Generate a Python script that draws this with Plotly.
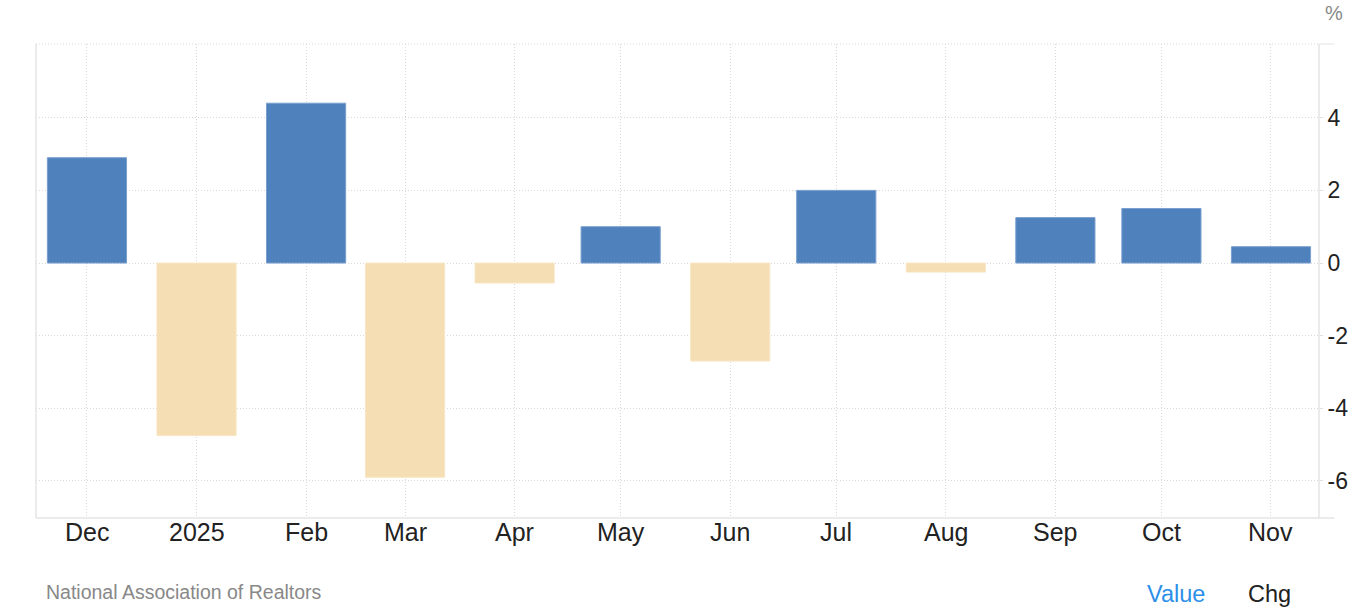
import plotly.graph_objects as go

categories = ["Dec", "2025", "Feb", "Mar", "Apr", "May", "Jun", "Jul", "Aug", "Sep", "Oct", "Nov"]
dates = ["2024-12-01", "2025-01-01", "2025-02-01", "2025-03-01", "2025-04-01", "2025-05-01",
         "2025-06-01", "2025-07-01", "2025-08-01", "2025-09-01", "2025-10-01", "2025-11-01"]
values = [2.9, -4.75, 4.4, -5.9, -0.55, 1.0, -2.7, 2.0, -0.25, 1.25, 1.5, 0.45]
y_ticks = [-6, -4, -2, 0, 2, 4]

POS = "#4f81bd"
NEG = "#f5deb3"
colors = [POS if v >= 0 else NEG for v in values]
line_colors = ["#7a9fcf" if v >= 0 else "#f8e6c6" for v in values]

DAY_MS = 86400000
fig = go.Figure()
fig.add_trace(go.Bar(
    x=dates, y=values,
    marker=dict(color=colors, line=dict(color=line_colors, width=1)),
    width=22.4 * DAY_MS, hoverinfo="skip",
))

FONT = "Liberation Sans, Arial, Helvetica, sans-serif"
GRID = "#dadada"

annotations = [
    dict(text=c, x=d, xref="x", y=0, yref="paper", yshift=-14,
         xanchor="center", yanchor="middle", showarrow=False,
         font=dict(size=25, color="#222222", family=FONT))
    for d, c in zip(dates, categories)
]
annotations += [
    dict(text="%", xref="paper", yref="paper", x=1.0, y=1.0, xshift=15, yshift=31,
         xanchor="center", yanchor="middle", showarrow=False,
         font=dict(size=20, color="#888888", family=FONT)),
    dict(text="National Association of Realtors", xref="paper", yref="paper",
         x=0, y=0, xshift=8, yshift=-74, xanchor="left", yanchor="middle",
         showarrow=False, font=dict(size=19.5, color="#888888", family=FONT)),
    dict(text="Value", xref="paper", yref="paper", x=1.0, y=0, xshift=-112, yshift=-76,
         xanchor="right", yanchor="middle", showarrow=False,
         font=dict(size=23.5, color="#2d8fe8", family=FONT)),
    dict(text="Chg", xref="paper", yref="paper", x=1.0, y=0, xshift=-26, yshift=-76,
         xanchor="right", yanchor="middle", showarrow=False,
         font=dict(size=23.5, color="#222222", family=FONT)),
]

fig.update_layout(
    width=1360, height=612,
    margin=dict(l=36, r=37, t=44, b=94),
    paper_bgcolor="white", plot_bgcolor="white",
    showlegend=False,
    font=dict(family=FONT, color="#333333"),
    xaxis=dict(
        type="date",
        range=["2024-11-16 14:00", "2025-11-14 14:00"],
        tickmode="array", tickvals=dates,
        showticklabels=False,
        showgrid=True, gridcolor=GRID, griddash="1px,2px", gridwidth=1,
        showline=False, zeroline=False, ticks="",
    ),
    yaxis=dict(
        side="right", range=[-7.02, 6.03],
        tickmode="array", tickvals=y_ticks, ticktext=[str(t) for t in y_ticks],
        showgrid=True, gridcolor=GRID, griddash="1px,2px", gridwidth=1,
        zeroline=False, showline=False,
        ticks="outside", ticklen=3, tickcolor="#e0e0e0",
        tickfont=dict(size=23, color="#222222", family=FONT),
    ),
    shapes=[
        dict(type="line", xref="paper", yref="paper", x0=0, x1=0, y0=0, y1=1,
             line=dict(color="#e4e4e4", width=1.5)),
        dict(type="line", xref="paper", yref="paper", x0=1, x1=1, y0=0, y1=1,
             line=dict(color="#e4e4e4", width=1.5)),
        dict(type="line", xref="paper", yref="paper", x0=0, x1=1.012, y0=0, y1=0,
             line=dict(color="#e4e4e4", width=1.5)),
        dict(type="line", xref="paper", yref="paper", x0=0, x1=1, y0=1, y1=1,
             line=dict(color=GRID, width=1, dash="1px,2px")),
        dict(type="line", xref="paper", yref="paper", x0=1, x1=1.012, y0=1, y1=1,
             line=dict(color="#e4e4e4", width=1)),
    ],
    annotations=annotations,
)

fig.write_html(
    "out.html",
    config={"displayModeBar": False, "staticPlot": True},
    post_script="document.body.style.margin='0';document.body.style.overflow='hidden';",
)
